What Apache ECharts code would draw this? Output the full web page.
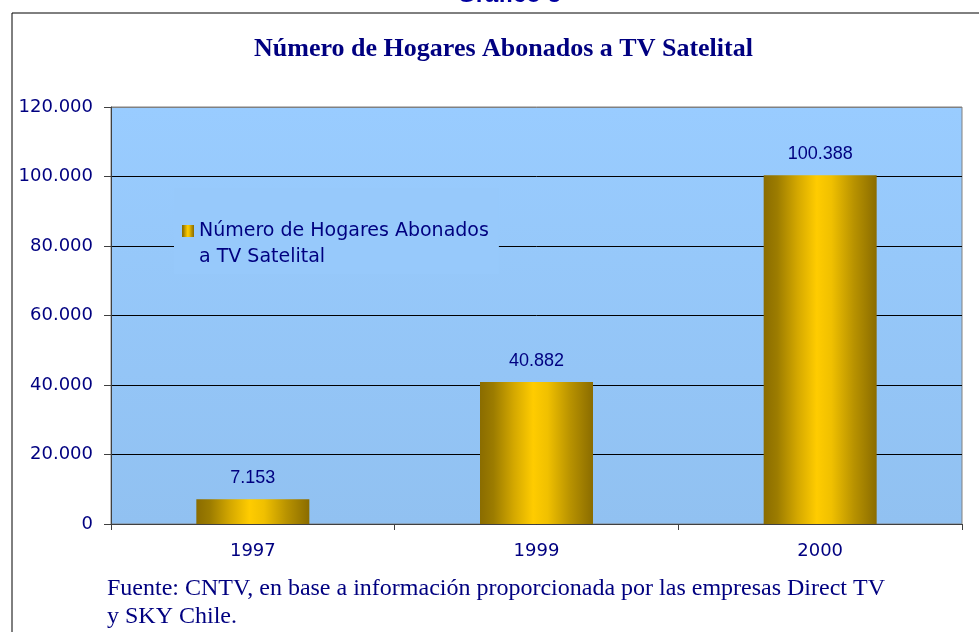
<!DOCTYPE html>
<html>
<head>
<meta charset="utf-8">
<script src="https://cdn.jsdelivr.net/npm/echarts@6/dist/echarts.min.js"></script>
<style>
html,body{margin:0;padding:0;background:#fff;}
#c{width:979px;height:632px;}
</style>
</head>
<body>
<div id="c"></div>
<script>
const categories = ['1997', '1999', '2000'];
const hogares = [7153, 40882, 100388];
const seriesName = 'Número de Hogares Abonados a TV Satelital';
const yTicks = [0, 20000, 40000, 60000, 80000, 100000, 120000];

function fmtMiles(v) {
  return String(Math.round(v)).replace(/\B(?=(\d{3})+(?!\d))/g, '.');
}

const navy = '#000080';
const chart = echarts.init(document.getElementById('c'), null, {renderer: 'canvas'});

const goldGrad = new echarts.graphic.LinearGradient(0, 0, 1, 0, [
  {offset: 0, color: '#8a6c00'},
  {offset: 0.12, color: '#9c7c00'},
  {offset: 0.3, color: '#d4a800'},
  {offset: 0.47, color: '#ffcc00'},
  {offset: 0.6, color: '#f0c000'},
  {offset: 0.8, color: '#b89200'},
  {offset: 1, color: '#8a6c00'}
]);

chart.setOption({
  backgroundColor: '#ffffff',
  animation: false,
  grid: {
    left: 111, right: 17, top: 107, bottom: 108,
    show: true,
    backgroundColor: new echarts.graphic.LinearGradient(0, 0, 0, 1, [
      {offset: 0, color: '#99ccff'},
      {offset: 1, color: '#91c1f1'}
    ]),
    borderColor: '#808080',
    borderWidth: 1
  },
  legend: {
    show: true,
    left: 174,
    top: 188,
    orient: 'vertical',
    padding: [4, 10, 4, 8],
    backgroundColor: '#97c9fb',
    itemWidth: 12,
    itemHeight: 12,
    icon: 'rect',
    formatter: function () { return ' \nNúmero de Hogares Abonados\na TV Satelital'; },
    textStyle: {
      color: navy,
      fontFamily: 'DejaVu Sans',
      fontSize: 19,
      lineHeight: 26
    },
    data: [seriesName]
  },
  xAxis: {
    type: 'category',
    data: categories,
    axisLine: {show: true, lineStyle: {color: '#404040', width: 1}},
    axisTick: {show: true, length: 6, lineStyle: {color: '#404040'}},
    axisLabel: {color: navy, fontFamily: 'DejaVu Sans', fontSize: 18, margin: 18},
    splitLine: {show: false}
  },
  yAxis: {
    type: 'value',
    min: yTicks[0],
    max: yTicks[yTicks.length - 1],
    interval: yTicks[1] - yTicks[0],
    axisLine: {show: true, lineStyle: {color: '#404040', width: 1}},
    axisTick: {show: true, length: 7, lineStyle: {color: '#404040'}},
    axisLabel: {
      color: navy, fontFamily: 'DejaVu Sans', fontSize: 18, margin: 18,
      formatter: function (v) { return fmtMiles(v); }
    },
    splitLine: {
      show: true,
      lineStyle: {color: ['#000000', '#000000', '#000000', '#000000', '#000000', '#000000', '#808080'], width: 1}
    }
  },
  series: [{
    name: seriesName,
    type: 'bar',
    data: hogares,
    barWidth: 113,
    itemStyle: {color: goldGrad},
    label: {
      show: true,
      position: 'top',
      distance: 12,
      color: navy,
      fontFamily: 'Liberation Sans',
      fontSize: 18,
      formatter: function (p) { return fmtMiles(p.value); }
    }
  }],
  graphic: [
    {
      type: 'rect',
      shape: {x: 12, y: 13, width: 1000, height: 700},
      style: {fill: 'none', stroke: '#000000', lineWidth: 1},
      silent: true,
      z: 100
    },
    {
      type: 'text',
      x: 509, y: -5,
      style: {
        text: 'Gráfico 5',
        fill: '#0000a0',
        font: 'bold 24px "Liberation Sans"',
        textAlign: 'center',
        textVerticalAlign: 'middle'
      }
    },
    {
      type: 'text',
      x: 503.5, y: 49,
      style: {
        text: 'Número de Hogares Abonados a TV Satelital',
        fill: navy,
        font: 'bold 26px "Liberation Serif"',
        textAlign: 'center',
        textVerticalAlign: 'middle'
      }
    },
    {
      type: 'text',
      x: 107, y: 575,
      style: {
        text: 'Fuente: CNTV, en base a información proporcionada por las empresas Direct TV\ny SKY Chile.',
        fill: navy,
        font: '24px "Liberation Serif"',
        lineHeight: 28,
        textAlign: 'left',
        textVerticalAlign: 'top'
      }
    }
  ]
});
</script>
</body>
</html>
